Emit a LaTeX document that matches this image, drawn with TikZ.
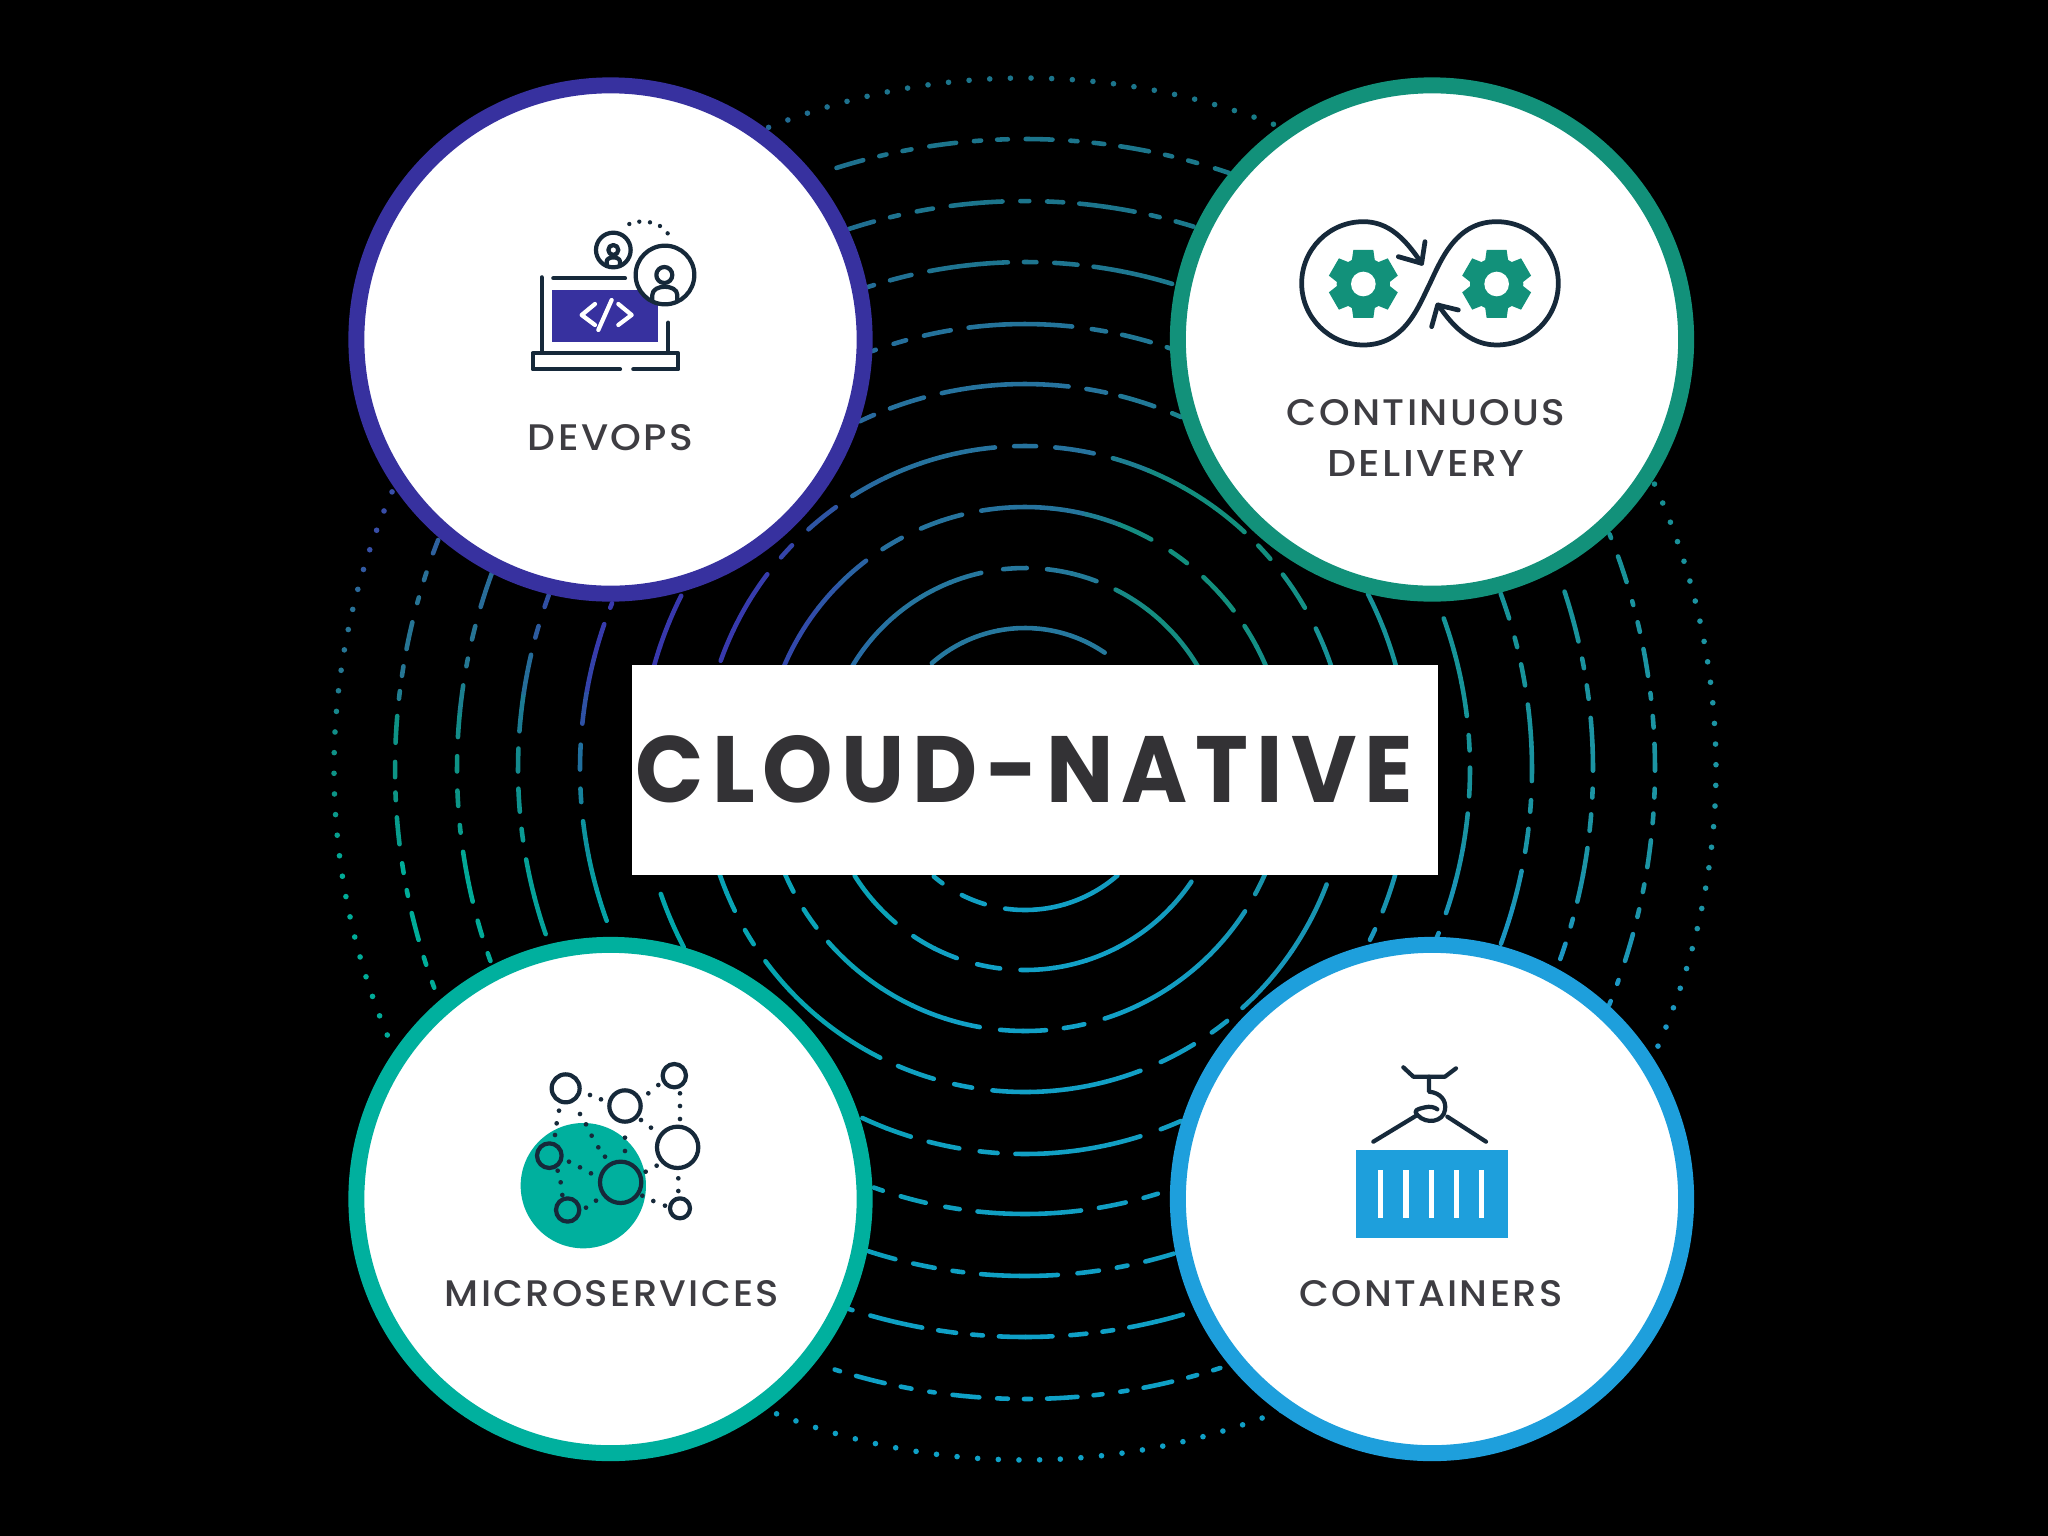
\documentclass[tikz,border=0pt]{standalone}
\usepackage{graphicx}
\usepackage{fontspec}
\setmainfont{Poppins}
\newfontfamily\lblfont{Poppins Medium}[LetterSpace=6]
\newfontfamily\ttlfont{Poppins}[LetterSpace=9]
\definecolor{cdevops}{HTML}{37319F}
\definecolor{ccd}{HTML}{12917A}
\definecolor{cmicro}{HTML}{00B09E}
\definecolor{ccont}{HTML}{1E9FDC}
\definecolor{cink}{HTML}{16293A}
\definecolor{ctext}{HTML}{3E3D42}
\definecolor{ctitle}{HTML}{333235}
\tikzset{
 ringline/.style={line width=1.3pt,line cap=round},
 iconline/.style={line width=1.2pt,draw=cink,line cap=round,line join=round},
 bigcircle/.style={circle,fill=white,line width=4.54pt,minimum size=5.08cm,inner sep=0pt},
 lbl/.style={text=ctext,inner sep=0pt},
 ttl/.style={text=ctitle,inner sep=0pt,font=\ttlfont\bfseries},
}
\newdimen\dimW \newdimen\dimR \newdimen\dimG \newdimen\dimB
\def\anchorlist{6.10/4.30/.22/.19/.64,6.70/6.20/.22/.22/.68,3.40/5.10/.22/.30/.66,4.00/6.40/.15/.46/.58,
4.00/7.70/.05/.58/.52,4.00/9.00/0/.68/.60,7.00/10.0/0/.66/.66,8.00/9.00/.04/.64/.72,10.25/10.0/.07/.63/.78,
10.25/14.5/.06/.63/.78,15.0/11.0/.11/.60/.82,16.9/7.7/.11/.58/.64,14.0/6.5/.09/.58/.60,12.0/5.6/.07/.56/.49,
14.5/3.0/.06/.54/.46,10.25/1.4/.11/.46/.55,10.25/4.5/.15/.45/.62,10.25/6.3/.15/.47/.62}
\newcommand\calccol[2]{%
 \pgfmathsetmacro\ux{#1/100}\pgfmathsetmacro\uy{#2/100}%
 \global\dimW=0pt \global\dimR=0pt \global\dimG=0pt \global\dimB=0pt
 \foreach \ax/\ay/\aR/\aG/\aB in \anchorlist {%
  \pgfmathsetmacro\dd{1/(0.05+(\ux-\ax)*(\ux-\ax)+(\uy-\ay)*(\uy-\ay))}%
  \pgfmathsetmacro\wgt{\dd*\dd}%
  \global\advance\dimW by \wgt pt
  \global\advance\dimR by \aR\dimexpr\wgt pt\relax
  \global\advance\dimG by \aG\dimexpr\wgt pt\relax
  \global\advance\dimB by \aB\dimexpr\wgt pt\relax
 }%
 \pgfmathsetmacro\vR{min(1,\dimR/\dimW)}\pgfmathsetmacro\vG{min(1,\dimG/\dimW)}\pgfmathsetmacro\vB{min(1,\dimB/\dimW)}%
 \definecolor{cc}{rgb}{\vR,\vG,\vB}%
}
% one arc on ring #1 from angle #2 to #3, cut into short pieces, each with its colour
\newcommand\ringarc[3]{%
 \pgfmathtruncatemacro\npc{max(1,ceil(abs(#3-#2)*#1/57.3/40))}%
 \foreach \ipc in {1,...,\npc}{%
  \pgfmathsetmacro\aone{#2+(#3-#2)*(\ipc-1)/\npc}%
  \pgfmathsetmacro\atwo{#2+(#3-#2)*\ipc/\npc}%
  \pgfmathsetmacro\mx{1025+#1*cos((\aone+\atwo)/2)}%
  \pgfmathsetmacro\my{769+#1*sin((\aone+\atwo)/2)}%
  \calccol{\mx}{\my}%
  \draw[ringline,draw=cc] (1025,769) ++(\aone:#1) arc[start angle=\aone,end angle=\atwo,radius=#1];
 }%
}
\newcommand\ztop[4]{\foreach \p/\q in {#4}{%
 \pgfmathsetmacro\aa{-acos((#2+\p/#3-1025)/#1)}\pgfmathsetmacro\ab{-acos((#2+\q/#3-1025)/#1)}%
 \ringarc{#1}{\aa}{\ab}}}
\newcommand\zbot[4]{\foreach \p/\q in {#4}{%
 \pgfmathsetmacro\aa{acos((#2+\q/#3-1025)/#1)}\pgfmathsetmacro\ab{acos((#2+\p/#3-1025)/#1)}%
 \ringarc{#1}{\aa}{\ab}}}
\newcommand\zright[4]{\foreach \p/\q in {#4}{%
 \pgfmathsetmacro\aa{asin((#2+\p/#3-769)/#1)}\pgfmathsetmacro\ab{asin((#2+\q/#3-769)/#1)}%
 \ringarc{#1}{\aa}{\ab}}}
\newcommand\zleft[4]{\foreach \p/\q in {#4}{%
 \pgfmathsetmacro\aa{180-asin((#2+\q/#3-769)/#1)}\pgfmathsetmacro\ab{180-asin((#2+\p/#3-769)/#1)}%
 \ringarc{#1}{\aa}{\ab}}}
\begin{document}
\begin{tikzpicture}[x=0.01cm,y=-0.01cm]
\fill[black] (0,0) rectangle (2048,1536);
\useasboundingbox (0,0) rectangle (2048,1536);
% dotted outer ring
\foreach \k in {0,...,209}{%
 \pgfmathsetmacro\dang{-89.5+\k*1.7143}%
 \pgfmathsetmacro\mx{1025+691*cos(\dang)}\pgfmathsetmacro\my{769+691*sin(\dang)}%
 \calccol{\mx}{\my}%
 \fill[cc] (\mx,\my) circle[radius=2.8];
}
% rings
\ztop{141}{600}{1.823}{605/920}
\zbot{141}{620}{1.96}{615/632,670/715,755/975}
\ztop{201}{600}{1.823}{460/695,735/778,815/905,940/1090}
\zbot{201}{620}{1.96}{460/540,575/660,700/745,785/1120}
\ztop{262}{600}{1.823}{335/485,515/550,585/660,695/1005,1040/1070,1100/1155,1175/1215}
\zbot{262}{620}{1.96}{320/340,360/385,408/705,745/835,870/910,950/1225,1245/1265}
\ztop{323}{600}{1.823}{220/305,330/350,380/430,460/720,755/795,830/900,935/1175,1200/1222,1245/1285,1305/1335}
\zbot{323}{620}{1.96}{195/225,245/262,285/510,545/615,655/690,730/1020,1060/1125,1160/1190,1220/1385}
\ztop{385}{740}{2.8}{335/375,420/515,565/920,970/1025,1065/1160,1210/1235}
\ztop{385}{600}{1.823}{95/148,1400/1452}
\zbot{385}{620}{1.96}{80/125,475/570,605/665,705/740,775/1020,1060/1100,1470/1480,1495/1520}
\ztop{445}{740}{2.8}{370/380,430/465,515/590,640/930,985/1025,1070/1150,1195/1215}
\zleft{445}{450}{2.613}{400/412,455/715,770/835,885/920,970/1230}
\zright{445}{450}{2.613}{440/695,745/785,830/905,950/1210,1262/1275}
\zbot{445}{740}{2.8}{375/400,450/520,575/615,665/955,1005/1080,1130/1170}
\ztop{507}{740}{2.8}{355/375,420/480,530/750,795/830,880/945,990/1210}
\zleft{507}{450}{2.613}{380/410,460/490,535/735,780/840,885/945,990/1020,1070/1265}
\zright{507}{450}{2.613}{375/440,490/515,560/615,665/865,915/945,990/1050,1100/1290}
\zbot{507}{740}{2.8}{360/435,485/545,595/625,675/890,945/1005,1055/1085,1135/1215}
\ztop{568}{740}{2.8}{305/375,420/445,495/540,590/735,785/810,860/905,950/1105,1150/1175,1220/1270}
\zleft{568}{450}{2.613}{320/410,460/495,545/565,615/750,800/840,890/930,980/1000,1050/1180,1230/1270,1315/1335}
\zright{568}{450}{2.613}{370/500,545/570,615/650,700/838,885/908,952/995,1040/1180,1225/1245,1290/1330}
\zbot{568}{740}{2.8}{305/315,365/510,555/605,650/680,725/875,925/970,1015/1045,1090/1240}
\ztop{630}{740}{2.8}{270/345,390/410,455/480,530/605,655/675,720/750,800/875,925/945,990/1020,1065/1145,1190/1210,1255/1280,1330/1370}
\zleft{630}{450}{2.613}{235/270,320/340,385/400,450/520,565/590,630/650,695/765,815/855,895/915,960/1030,1080/1105,1150/1165,1210/1280,1325/1345,1390/1405}
\zright{630}{450}{2.613}{220/230,278/345,395/405,450/475,520/590,635/650,695/725,768/838,885/908,950/975,1020/1090,1135/1155,1200/1220,1265/1335,1385/1395,1440/1450}
\zbot{630}{740}{2.8}{265/280,325/405,450/480,530/545,595/670,720/750,795/815,860/945,990/1015,1065/1085,1130/1210,1255/1280,1325/1345}
% centre box
\fill[white] (632,665) rectangle (1438,875);
\node[ttl] (title) at (1024.5,769) {\resizebox{7.77cm}{0.67cm}{CLOUD-NATIVE}};
% four circles
\node[bigcircle,draw=cdevops] (devops) at (610.5,339.5) {};
\node[bigcircle,draw=ccd] (cd) at (1432,339.5) {};
\node[bigcircle,draw=cmicro] (micro) at (610.5,1199) {};
\node[bigcircle,draw=ccont] (cont) at (1432,1199) {};
% labels
\node[lbl] (l1) at (610.5,438) {\resizebox{1.65cm}{0.26cm}{\lblfont DEVOPS}};
\node[lbl] (l2) at (1426,412.5) {\resizebox{2.78cm}{0.26cm}{\lblfont CONTINUOUS}};
\node[lbl] (l3) at (1426,463) {\resizebox{1.97cm}{0.26cm}{\lblfont DELIVERY}};
\node[lbl] (l4) at (612,1294) {\resizebox{3.34cm}{0.26cm}{\lblfont MICROSERVICES}};
\node[lbl] (l5) at (1431,1294) {\resizebox{2.63cm}{0.26cm}{\lblfont CONTAINERS}};
% devops icon
\begin{scope}[shift={(480,180)},scale=0.3333]
 \fill[cdevops] (215,330) rectangle (535,485);
 \draw[iconline] (185,292) -- (185,515);
 \draw[iconline] (220,295) -- (435,295);
 \draw[iconline] (565,428) -- (565,518);
 \draw[iconline] (420,568) -- (158,568) -- (158,520) -- (595,520) -- (595,568) -- (460,568);
 \draw[iconline,draw=white] (345,372) -- (305,405) -- (345,435);
 \draw[iconline,draw=white] (395,360) -- (355,450);
 \draw[iconline,draw=white] (415,372) -- (455,405) -- (415,435);
 \draw[iconline,fill=white] (400,210) circle[radius=52];
 \draw[iconline] (400,210) circle[radius=15];
 \draw[iconline] (380,258) -- (380,245) .. controls (380,228) and (420,228) .. (420,245) -- (420,258);
 \draw[iconline,fill=white] (555,285) circle[radius=88];
 \draw[iconline] (553,285) circle[radius=24];
 \draw[iconline] (517,360) -- (517,345) .. controls (517,312) and (592,312) .. (592,345) -- (592,360);
 \foreach \dx/\dy in {448/132,478/125,510/127,540/138,563/160}{\fill[cink] (\dx,\dy) circle[radius=6.5];}
\end{scope}
% continuous delivery icon
\begin{scope}[shift={(1270,190)},scale=0.3333]
 \foreach \gx in {280,680}{
  \fill[ccd] (\gx,282) circle[radius=80];
  \foreach \ga in {90,150,210,270,330,30}{
   \fill[ccd,shift={(\gx,282)},rotate=\ga] (60,-36) -- (102,-30) -- (102,30) -- (60,36) -- cycle;
  }
  \fill[white] (\gx,282) circle[radius=37];
 }
 \draw[iconline,line width=1.35pt] (455,220) .. controls (405,145) and (355,95) .. (280,95)
   arc[start angle=-90,end angle=-270,radius=185]
   .. controls (405,465) and (445,350) .. (480,280)
   .. controls (515,205) and (560,95) .. (680,95)
   arc[start angle=-90,end angle=90,radius=185]
   .. controls (610,465) and (555,420) .. (505,345);
 \draw[iconline,line width=1.35pt] (465,155) -- (455,220) -- (385,200);
 \draw[iconline,line width=1.35pt] (565,360) -- (503,345) -- (485,410);
\end{scope}
% microservices icon
\begin{scope}[shift={(490,1040)},scale=0.3333]
 \fill[cmicro] (280,437) circle[radius=188];
 \foreach \cx/\cy/\cq in {227/145/42,405/198/47,553/107/35,563/322/62,178/347/37,392/427/62,233/510/35,570/505/30}{
  \draw[iconline] (\cx,\cy) circle[radius=\cq];
 }
 \foreach \dx/\dy in {300/165,333/178,207/212,270/222,200/250,288/253,195/285,305/287,325/322,345/350,405/293,405/333,453/240,483/263,475/160,505/135,570/160,570/198,570/237,500/377,467/395,237/365,270/382,303/400,203/392,212/427,217/465,318/482,288/503,457/467,490/483,525/497,565/415,565/453}{
  \fill[cink] (\dx,\dy) circle[radius=7];
 }
\end{scope}
% containers icon
\begin{scope}[shift={(1330,1050)},scale=0.3333]
 \fill[ccont] (78,300) rectangle (533,563);
 \foreach \bx in {152,228,305,380,455}{\fill[white] (\bx-8,360) rectangle (\bx+8,503);}
 \draw[iconline] (220,52) -- (250,80) -- (345,80) -- (378,55);
 \draw[iconline] (297,80) -- (297,125) .. controls (330,128) and (350,150) .. (345,180)
   .. controls (340,215) and (290,225) .. (262,195) .. controls (250,180) and (260,178) .. (285,172) .. controls (300,168) and (315,172) .. (322,178);
 \draw[iconline] (130,275) -- (262,195);
 \draw[iconline] (352,200) -- (468,275);
\end{scope}
\end{tikzpicture}
\end{document}
